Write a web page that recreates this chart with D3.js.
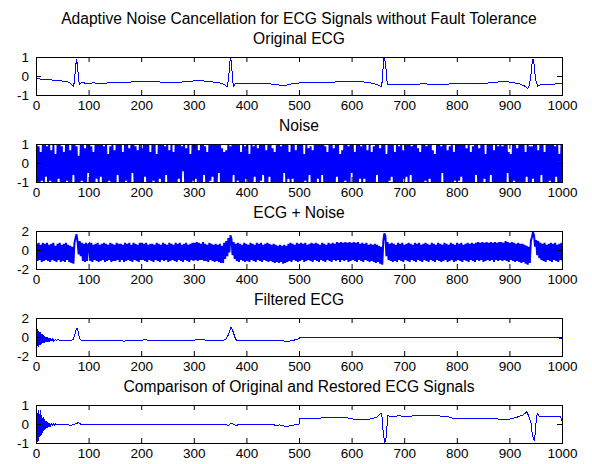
<!DOCTYPE html>
<html>
<head>
<meta charset="utf-8">
<script src="https://cdn.jsdelivr.net/npm/d3@7"></script>
<style>
body { margin: 0; background: #fff; }
text { font-family: "Liberation Sans", Arial, Helvetica, sans-serif; fill: #000; }
.tick text { font-size: 13.5px; }
.title { font-size: 15.6px; }
</style>
</head>
<body>
<script>
// chart text
var mainTitle = "Adaptive Noise Cancellation for ECG Signals without Fault Tolerance";
var panelTitles = ["Original ECG", "Noise", "ECG + Noise", "Filtered ECG", "Comparison of Original and Restored ECG Signals"];

// ticks
var xTicks = [0, 100, 200, 300, 400, 500, 600, 700, 800, 900, 1000];
var yTicksOne = [-1, 0, 1];
var yTicksTwo = [-2, 0, 2];

// original ECG, [sample, value]
var ecgPoints = [[0,-0.12],[10,-0.14],[25,-0.17],[35,-0.2],[45,-0.23],[55,-0.25],[62,-0.3],[67,-0.42],[70,-0.5],[72,-0.3],[74,0.4],[76,0.9],[78,0.6],[80,-0.2],[82,-0.42],[85,-0.33],[95,-0.35],[110,-0.34],[120,-0.36],[130,-0.35],[140,-0.33],[150,-0.32],[160,-0.33],[175,-0.3],[190,-0.27],[205,-0.26],[220,-0.27],[235,-0.29],[250,-0.31],[270,-0.3],[285,-0.28],[295,-0.25],[305,-0.21],[315,-0.22],[325,-0.26],[340,-0.3],[352,-0.36],[358,-0.45],[362,-0.55],[365,-0.2],[367,0.6],[369,1.05],[371,0.6],[373,-0.3],[375,-0.5],[378,-0.38],[390,-0.35],[405,-0.37],[420,-0.36],[440,-0.38],[455,-0.42],[465,-0.47],[475,-0.46],[485,-0.38],[500,-0.34],[520,-0.33],[540,-0.32],[560,-0.3],[580,-0.27],[595,-0.24],[610,-0.25],[625,-0.3],[640,-0.36],[650,-0.45],[655,-0.55],[657,-0.3],[659,0.5],[661,1.05],[664,0.6],[666,-0.2],[668,-0.42],[675,-0.4],[690,-0.4],[710,-0.41],[725,-0.4],[740,-0.38],[745,-0.42],[760,-0.4],[780,-0.4],[800,-0.38],[820,-0.37],[840,-0.36],[860,-0.34],[875,-0.3],[885,-0.26],[895,-0.27],[905,-0.32],[918,-0.38],[928,-0.5],[934,-0.65],[937,-0.45],[940,0.1],[943,0.88],[945,0.88],[947,0.3],[950,-0.3],[953,-0.52],[956,-0.45],[965,-0.43],[975,-0.42],[985,-0.4],[995,-0.35],[1000,-0.36]];

// noise, every second sample, in tenths
var noiseTenths = [
10,-10,9,-10,6,-9,10,-10,10,-7, 9,-10,10,-9,7,-10,10,-10,5,-10, 10,-8,10,-10,9,-10,6,-10,10,-9,
10,-10,7,-10,10,-6,10,-10,9,-10, 4,-10,10,-9,10,-10,8,-10,10,-5, 10,-10,9,-10,6,-10,10,-8,10,-10,
10,-7,10,-10,9,-10,10,-10,5,-9, 9,-10,10,-10,7,-10,10,-6,10,-10, 10,-10,6,-10,10,-9,10,-10,8,-10,
10,-5,10,-10,9,-10,7,-10,10,-10, 8,-10,10,-7,10,-10,10,-10,6,-10, 10,-9,10,-10,5,-10,10,-8,10,-10,
10,-10,9,-6,10,-10,7,-10,10,-10, 6,-10,10,-10,10,-8,10,-10,9,-4, 10,-10,8,-10,10,-10,5,-10,10,-9,
10,-8,10,-10,7,-10,10,-10,10,-6, 9,-10,6,-10,10,-9,10,-7,10,-10, 10,-10,10,-5,10,-10,8,-10,6,-10,
7,-10,10,-10,9,-10,10,-6,10,-10, 10,-9,10,-10,6,-10,10,-10,9,-8, 10,-10,5,-10,10,-10,9,-7,10,-10,
8,-10,10,-9,10,-6,10,-10,7,-10, 10,-7,10,-10,8,-10,6,-10,10,-10, 10,-10,9,-10,10,-5,10,-10,10,-8,
6,-10,10,-8,10,-10,7,-10,10,-10, 10,-10,10,-10,5,-9,10,-10,8,-6, 9,-10,7,-10,10,-10,10,-8,10,-10,
10,-6,10,-10,9,-10,6,-10,10,-10, 10,-10,8,-10,10,-7,10,-10,5,-10, 7,-10,10,-9,10,-10,9,-10,10,-5,
10,-10,6,-10,10,-10,10,-8,9,-10, 10,-8,10,-10,7,-10,10,-10,6,-10, 9,-10,10,-6,10,-10,8,-10,10,-10,
10,-10,5,-10,10,-9,10,-7,10,-10, 6,-10,10,-10,9,-10,10,-10,7,-8, 10,-7,10,-10,10,-6,9,-10,10,-10,
10,-10,8,-10,6,-10,10,-10,10,-9, 9,-10,10,-8,10,-10,7,-10,5,-10, 10,-10,10,-10,9,-5,10,-10,10,-10,
7,-10,9,-10,10,-10,6,-9,10,-10, 10,-9,10,-7,10,-10,10,-10,8,-10, 10,-10,6,-10,9,-10,10,-6,10,-10,
8,-10,10,-10,10,-8,5,-10,10,-10, 10,-6,10,-10,7,-10,10,-10,9,-10, 10,-10,9,-10,10,-10,10,-5,6,-10,
5,-10,10,-9,10,-10,8,-10,10,-10, 10,-10,10,-10,6,-7,10,-10,9,-10, 9,-8,10,-10,10,-10,7,-10,10,-6,
10,-10,6,-10,10,-10,10,-9,10,-10, 10,-10,9,-7,10,-10,5,-10,10,-10
];

// ECG + noise, every second sample, in tenths
var ecgNoiseTenths = [
7,-11,8,-10,6,-12,8,-11,7,-10, 8,-11,6,-12,7,-10,8,-11,5,-12, 7,-10,8,-12,6,-11,7,-12,8,-10,
6,-12,5,-13,4,-14,8,13,17,9, -4,10,-6,8,-11,7,-12,8,-11,6, 7,-11,8,-12,6,-10,7,-11,8,-12,
6,-11,7,-10,8,-12,7,-11,6,-10, 8,-12,7,-11,6,-11,8,-10,7,-12, 7,-10,6,-12,8,-11,7,-10,8,-11,
6,-12,8,-10,7,-11,6,-12,8,-10, 8,-10,7,-11,8,-12,6,-10,7,-11, 7,-12,6,-10,8,-11,7,-12,6,-10,
8,-11,7,-10,6,-12,8,-11,7,-10, 6,-11,8,-12,7,-10,8,-11,6,-12, 7,-10,8,-11,6,-12,7,-10,8,-11,
8,-10,9,-11,8,-10,7,-10,9,-11, 7,-11,6,-12,8,-10,7,-11,6,-12, 7,-11,6,-12,7,-13,5,-13,8,-9,
10,-6,13,-2,16,12,-5,9,-9,7, -11,8,-12,7,-10,6,-11,8,-12,7, -11,6,-12,8,-10,7,-11,6,-12,8,
-10,7,-11,8,-12,6,-10,7,-11,8, -12,7,-11,6,-12,7,-13,6,-12,5, -13,6,-12,5,-14,6,-13,5,-12,7,
-11,8,-12,7,-10,6,-11,8,-12,7, -11,8,-10,7,-12,8,-11,6,-10,7, -11,8,-12,7,-10,8,-11,7,-12,6,
-10,8,-11,7,-12,6,-10,8,-11,7, -12,8,-10,7,-11,9,-10,8,-12,9, -10,8,-11,9,-10,8,-12,9,-11,8,
-10,9,-11,8,-12,9,-10,7,-11,8, -12,7,-10,8,-11,6,-12,7,-11,6, -12,7,-13,6,-12,5,-14,4,-15,10,
18,15,-6,9,-10,7,-11,8,-12,7, -11,6,-12,8,-10,7,-11,8,-12,6, -10,7,-11,8,-12,7,-10,6,-11,8,
-12,7,-10,8,-11,6,-12,7,-10,8, -11,7,-12,6,-10,8,-11,7,-12,6, -10,8,-11,7,-12,6,-11,8,-10,7,
-12,6,-11,8,-10,7,-12,6,-11,8, -10,7,-11,8,-12,6,-10,7,-11,8, -12,7,-10,8,-11,7,-12,8,-10,9,
-11,8,-10,9,-12,8,-11,9,-10,8, -11,9,-10,8,-12,9,-10,8,-11,9, -10,9,-11,8,-10,10,-11,9,-12,8,
-10,9,-11,8,-12,7,-11,8,-12,7, -13,7,-12,6,-14,5,-15,4,-13,10, 14,19,16,4,11,-5,10,-8,8,-10,
7,-11,8,-12,6,-10,7,-11,8,-12, 7,-10,8,-11,6,-12,7,-10,8,-11
];

// filtered ECG, [sample, value]
var filteredPoints = [[0,0.1],[1,0.85],[2,-0.9],[3,0.7],[4,-1.05],[5,0.6],[6,-0.8],[7,0.55],[8,-0.75],[9,0.4],[10,-0.7],[11,0.35],[12,-0.6],[13,0.3],[14,-0.55],[15,0.2],[16,-0.55],[17,0.1],[18,-0.5],[19,0.05],[20,-0.5],[21,0],[22,-0.45],[23,-0.05],[24,-0.45],[25,-0.1],[26,-0.4],[27,-0.1],[28,-0.4],[29,-0.15],[30,-0.38],[31,-0.15],[32,-0.35],[33,-0.2],[34,-0.32],[36,-0.22],[38,-0.3],[40,-0.25],[45,-0.28],[50,-0.28],[60,-0.3],[66,-0.3],[70,-0.2],[73,0.3],[76,0.95],[78,0.9],[80,0.4],[82,-0.1],[85,-0.3],[100,-0.3],[110,-0.3],[115,-0.36],[118,-0.28],[122,-0.34],[130,-0.28],[135,-0.33],[150,-0.3],[163,-0.3],[166,-0.4],[170,-0.32],[185,-0.31],[200,-0.29],[207,-0.22],[212,-0.3],[240,-0.3],[280,-0.29],[300,-0.28],[305,-0.2],[315,-0.2],[322,-0.28],[340,-0.29],[355,-0.3],[360,-0.2],[364,0.2],[368,0.8],[370,1.1],[372,0.9],[375,0.4],[378,-0.1],[381,-0.35],[395,-0.36],[420,-0.35],[450,-0.34],[470,-0.35],[475,-0.45],[480,-0.42],[485,-0.32],[490,-0.3],[492,-0.18],[499,-0.15],[500,-0.02],[990,-0.02],[994,-0.05],[998,-0.1],[1000,-0.15]];

// original minus restored, [sample, value]
var comparisonPoints = [[0,1],[1,-0.3],[2,-0.9],[3,0.75],[4,-0.85],[5,0.55],[6,-0.65],[7,0.75],[8,-0.6],[9,0.5],[10,-0.55],[11,0.35],[12,-0.45],[13,0.4],[14,-0.35],[15,0.3],[16,-0.3],[17,0.2],[18,-0.25],[19,0.18],[20,-0.2],[21,0.12],[22,-0.15],[23,0.1],[24,-0.12],[25,0.08],[26,-0.1],[28,0.06],[30,-0.06],[32,0.05],[34,-0.04],[36,0.03],[40,-0.02],[50,0],[60,-0.02],[65,-0.05],[70,-0.01],[75,0.05],[80,0.1],[84,0.02],[90,0],[200,0],[360,0],[365,-0.05],[370,0.08],[375,0],[380,-0.06],[385,0.02],[392,0],[450,0],[455,-0.05],[462,-0.02],[470,-0.08],[478,-0.1],[485,-0.05],[490,-0.02],[499,0],[500,0.33],[520,0.34],[540,0.34],[550,0.36],[560,0.38],[570,0.37],[580,0.38],[590,0.35],[600,0.3],[610,0.25],[620,0.24],[630,0.26],[640,0.33],[648,0.4],[652,0.52],[655,0.6],[657,0.4],[659,-0.4],[662,-0.95],[664,-0.9],[666,-0.2],[668,0.45],[675,0.44],[690,0.45],[700,0.44],[720,0.45],[740,0.45],[760,0.45],[780,0.44],[790,0.34],[800,0.33],[820,0.33],[840,0.32],[860,0.32],[875,0.3],[885,0.25],[895,0.26],[905,0.32],[915,0.4],[925,0.5],[932,0.66],[935,0.5],[940,0.1],[943,-0.6],[946,-0.85],[948,-0.5],[950,0.2],[952,0.6],[955,0.45],[960,0.42],[970,0.43],[980,0.42],[990,0.42],[996,0.41],[998,0.3],[1000,0.07]];

function fromTenths(values) {
	return values.map(function (v, i, a) {
		return [i * 1000 / (a.length - 1), v / 10];
	});
}

// dense traces get a wider pen so the band fills like the original
var panels = [
	{ points: ecgPoints, domain: [-1, 1], ticks: yTicksOne, dense: false },
	{ points: fromTenths(noiseTenths), domain: [-1, 1], ticks: yTicksOne, dense: true },
	{ points: fromTenths(ecgNoiseTenths), domain: [-2, 2], ticks: yTicksTwo, dense: true },
	{ points: filteredPoints, domain: [-2, 2], ticks: yTicksTwo, dense: false },
	{ points: comparisonPoints, domain: [-1, 1], ticks: yTicksOne, dense: false }
];

var W = 592, H = 464;
var left = 36, plotW = 526, plotH = 38, firstTop = 57, step = 87;
var tickLen = 5;
var fmt = function (d) { return String(d); };

var svg = d3.select("body").append("svg")
	.attr("width", W)
	.attr("height", H);

svg.append("rect")
	.attr("width", W)
	.attr("height", H)
	.attr("fill", "#fff");

svg.append("text")
	.attr("class", "title")
	.attr("x", left + plotW / 2)
	.attr("y", 24)
	.attr("text-anchor", "middle")
	.text(mainTitle);

var x = d3.scaleLinear().domain([0, 1000]).range([0, plotW]);

panels.forEach(function (panel, k) {
	var top = firstTop + k * step;
	var y = d3.scaleLinear().domain(panel.domain).range([plotH, 0]);
	var g = svg.append("g").attr("transform", "translate(" + left + "," + top + ")");

	g.append("clipPath")
		.attr("id", "clip" + k)
		.append("rect")
		.attr("x", 0.5)
		.attr("y", 0.5)
		.attr("width", plotW)
		.attr("height", plotH);

	var line = d3.line()
		.x(function (d) { return x(d[0]) + 0.5; })
		.y(function (d) { return y(d[1]) + 0.5; });

	g.append("path")
		.datum(panel.points)
		.attr("clip-path", "url(#clip" + k + ")")
		.attr("d", line)
		.attr("fill", "none")
		.attr("stroke", "#0000ff")
		.attr("stroke-width", panel.dense ? 2 : 1)
		.attr("shape-rendering", panel.dense ? "auto" : "crispEdges");

	// box
	g.append("rect")
		.attr("x", 0.5)
		.attr("y", 0.5)
		.attr("width", plotW)
		.attr("height", plotH)
		.attr("fill", "none")
		.attr("stroke", "#000")
		.attr("stroke-width", 1);

	g.append("g")
		.attr("transform", "translate(0," + plotH + ")")
		.call(d3.axisBottom(x).tickValues(xTicks).tickSizeInner(-tickLen).tickSizeOuter(0).tickPadding(5).tickFormat(fmt))
		.call(function (a) { a.select(".domain").remove(); });

	g.append("g")
		.call(d3.axisTop(x).tickValues(xTicks).tickSizeInner(-tickLen).tickSizeOuter(0).tickFormat(""))
		.call(function (a) { a.select(".domain").remove(); });

	g.append("g")
		.call(d3.axisLeft(y).tickValues(panel.ticks).tickSizeInner(-tickLen).tickSizeOuter(0).tickPadding(7).tickFormat(fmt))
		.call(function (a) { a.select(".domain").remove(); });

	g.append("g")
		.attr("transform", "translate(" + plotW + ",0)")
		.call(d3.axisRight(y).tickValues(panel.ticks).tickSizeInner(-tickLen).tickSizeOuter(0).tickFormat(""))
		.call(function (a) { a.select(".domain").remove(); });

	svg.append("text")
		.attr("class", "title")
		.attr("x", left + plotW / 2)
		.attr("y", top - 13)
		.attr("text-anchor", "middle")
		.text(panelTitles[k]);
});
</script>
</body>
</html>
